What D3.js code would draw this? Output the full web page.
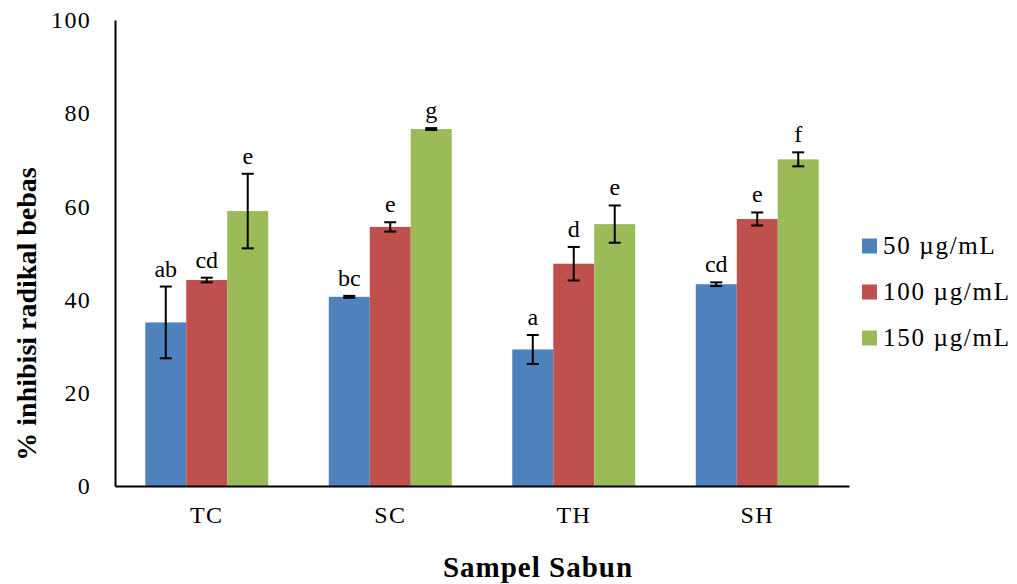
<!DOCTYPE html>
<html>
  <head>
    <meta charset="utf-8">
    <title>% inhibisi radikal bebas</title>
    <script src="https://d3js.org/d3.v7.min.js"></script>
    <style>
      body { margin: 0; background: #fff; }
      svg { display: block; font-family: "Liberation Serif", "Times New Roman", serif; }
      .tick text { font-size: 24px; fill: #000; letter-spacing: 1.3px; }
      .letter { font-size: 24px; fill: #000; }
      .legend text { font-size: 25px; fill: #000; letter-spacing: 1.7px; }
      .title { font-weight: bold; fill: #000; }
    </style>
  </head>
  <body>
    <svg id="chart" width="1017" height="584"></svg>
    <script>
      // chart data
      var samples = ["TC", "SC", "TH", "SH"];
      var doses = ["50 µg/mL", "100 µg/mL", "150 µg/mL"];
      var colors = ["#4F81BD", "#C0504D", "#9BBB59"];
      // mean inhibition per dose, one value per sample
      var dose50 = [35.1, 40.6, 29.3, 43.3];
      var dose100 = [44.2, 55.6, 47.7, 57.3];
      var dose150 = [59.0, 76.6, 56.2, 70.1];
      // error (± sd)
      var err50 = [7.7, 0.2, 3.1, 0.4];
      var err100 = [0.5, 1.0, 3.6, 1.4];
      var err150 = [8.0, 0.2, 4.0, 1.5];
      // significance letters
      var letters50 = ["ab", "bc", "a", "cd"];
      var letters100 = ["cd", "e", "d", "e"];
      var letters150 = ["e", "g", "e", "f"];
      var yTicks = [0, 20, 40, 60, 80, 100];

      var values = [dose50, dose100, dose150];
      var errors = [err50, err100, err150];
      var letters = [letters50, letters100, letters150];

      var bars = [];
      samples.forEach(function(s, i) {
        doses.forEach(function(d, j) {
          bars.push({ sample: s, dose: d, idx: j, value: values[j][i], err: errors[j][i], letter: letters[j][i] });
        });
      });

      var svg = d3.select("#chart");
      var margin = { left: 115, right: 168, top: 20, bottom: 98 };
      var width = 1017, height = 584;

      var x0 = d3.scaleBand()
        .domain(samples)
        .range([margin.left, width - margin.right])
        .padding(0);
      var groupWidth = x0.bandwidth() * 0.67;
      var x1 = d3.scaleBand()
        .domain(doses)
        .range([0, groupWidth])
        .padding(0);
      var y = d3.scaleLinear()
        .domain([0, 100])
        .range([height - margin.bottom, margin.top]);

      // bars
      var g = svg.append("g");
      g.selectAll(".bar")
          .data(bars)
        .enter().append("rect")
          .attr("class", "bar")
          .attr("x", function(d) { return x0(d.sample) + (x0.bandwidth() - groupWidth) / 2 + x1(d.dose); })
          .attr("y", function(d) { return y(d.value); })
          .attr("width", x1.bandwidth())
          .attr("height", function(d) { return y(0) - y(d.value); })
          .attr("fill", function(d) { return colors[d.idx]; });

      // error bars
      var cx = function(d) { return x0(d.sample) + (x0.bandwidth() - groupWidth) / 2 + x1(d.dose) + x1.bandwidth() / 2; };
      var eb = g.selectAll(".err")
          .data(bars)
        .enter().append("g")
          .attr("class", "err")
          .attr("stroke", "#000")
          .attr("stroke-width", 2);
      eb.append("line")
        .attr("x1", cx).attr("x2", cx)
        .attr("y1", function(d) { return y(d.value + d.err); })
        .attr("y2", function(d) { return y(d.value - d.err); });
      eb.append("line")
        .attr("x1", function(d) { return cx(d) - 6; }).attr("x2", function(d) { return cx(d) + 6; })
        .attr("y1", function(d) { return y(d.value + d.err); })
        .attr("y2", function(d) { return y(d.value + d.err); });
      eb.append("line")
        .attr("x1", function(d) { return cx(d) - 6; }).attr("x2", function(d) { return cx(d) + 6; })
        .attr("y1", function(d) { return y(d.value - d.err); })
        .attr("y2", function(d) { return y(d.value - d.err); });

      // letters
      g.selectAll(".letter")
          .data(bars)
        .enter().append("text")
          .attr("class", "letter")
          .attr("text-anchor", "middle")
          .attr("x", cx)
          .attr("y", function(d) { return y(d.value + d.err) - 10; })
          .text(function(d) { return d.letter; });

      // axes
      var yAxis = d3.axisLeft(y)
        .tickValues(yTicks)
        .tickSize(0)
        .tickPadding(24);
      var yg = svg.append("g")
        .attr("transform", "translate(" + margin.left + ",0)")
        .call(yAxis)
        .attr("font-family", null)
        .attr("font-size", null);
      yg.select(".domain").attr("stroke", "#000").attr("stroke-width", 2);
      yg.selectAll(".tick text").attr("dy", "0.32em");

      var xAxis = d3.axisBottom(x0)
        .tickSize(0)
        .tickPadding(20);
      var xg = svg.append("g")
        .attr("transform", "translate(0," + y(0) + ")")
        .call(xAxis)
        .attr("font-family", null)
        .attr("font-size", null);
      xg.select(".domain").attr("stroke", "#000").attr("stroke-width", 2);

      // titles
      svg.append("text")
        .attr("class", "title")
        .attr("x", 538)
        .attr("y", 577)
        .attr("text-anchor", "middle")
        .style("font-size", "29px")
        .style("letter-spacing", "1px")
        .text("Sampel Sabun");
      svg.append("text")
        .attr("class", "title")
        .attr("transform", "translate(36,314) rotate(-90)")
        .attr("text-anchor", "middle")
        .style("font-size", "28px")
        .text("% inhibisi radikal bebas");

      // legend
      var legend = svg.append("g")
        .attr("class", "legend")
        .selectAll("g")
          .data(doses)
        .enter().append("g")
          .attr("transform", function(d, i) { return "translate(862," + (246 + i * 46) + ")"; });
      legend.append("rect")
        .attr("x", 0).attr("y", -7.5)
        .attr("width", 15).attr("height", 15)
        .attr("fill", function(d, i) { return colors[i]; });
      legend.append("text")
        .attr("x", 21)
        .attr("dy", "0.33em")
        .text(function(d) { return d; });
    </script>
  </body>
</html>
